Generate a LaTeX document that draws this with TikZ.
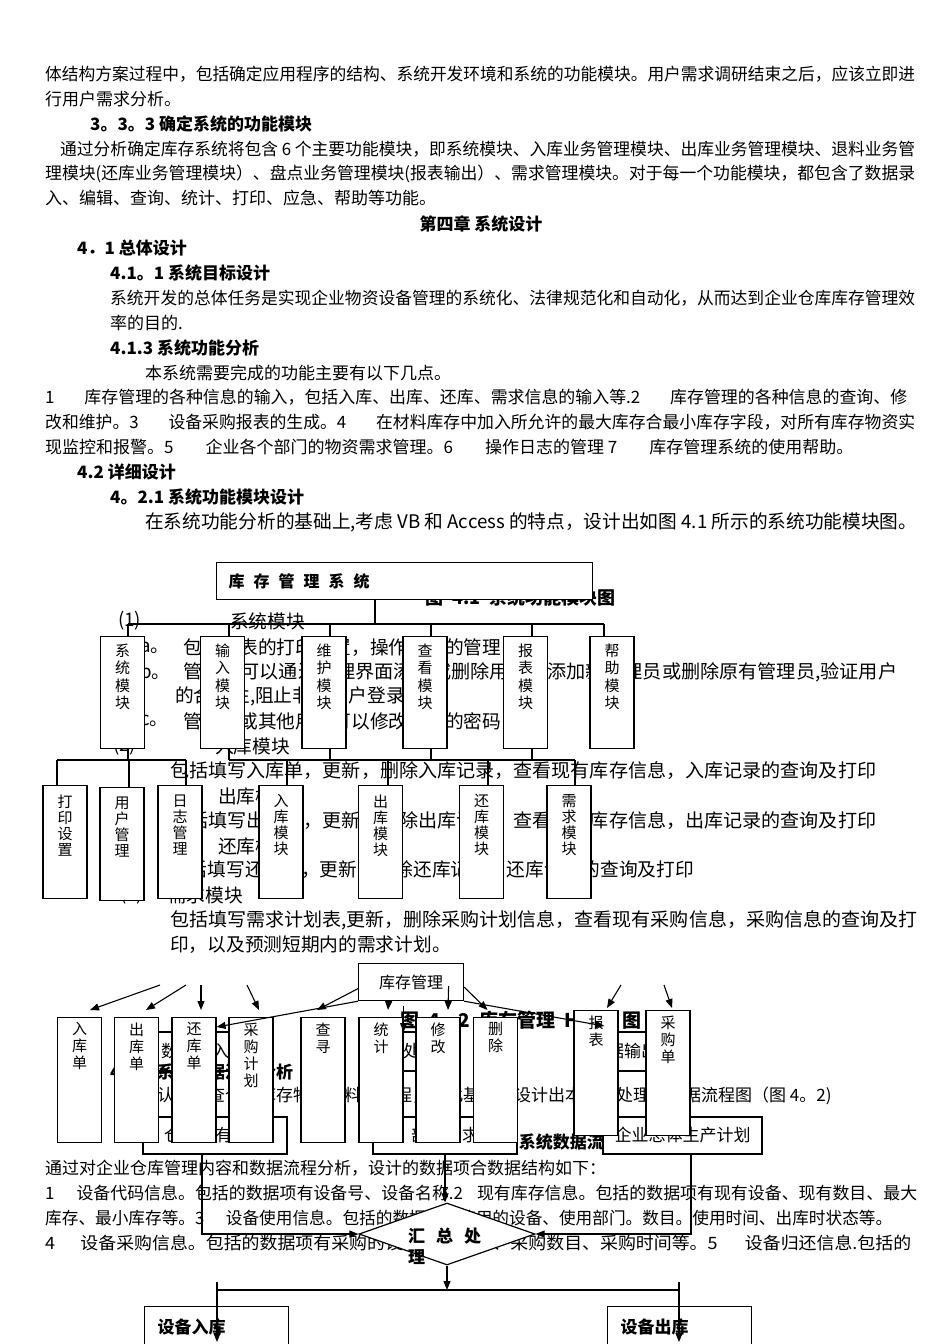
\documentclass[tikz,border=0pt]{standalone}
\usepackage{fontspec}
\setmainfont{Noto Sans CJK SC}
\usetikzlibrary{arrows.meta,shapes.geometric}
\newcommand{\fsz}[1]{\fontsize{#1}{#1}\selectfont}
\newcommand{\jl}[2]{\resizebox{#1}{\height}{#2}}
\newcommand{\vcol}[3]{\parbox[c][#1][t]{44pt}{\centering\vspace*{#2}#3}}
\tikzset{
  body/.style={anchor=west, inner sep=0pt, font=\fsz{17}},
  big/.style={anchor=west, inner sep=0pt, font=\fsz{18.7}},
  head/.style={anchor=west, inner sep=0pt, font=\bfseries\fsz{17}},
  capt/.style={anchor=west, inner sep=0pt, font=\bfseries\fsz{19}},
  rootbox/.style={draw, fill=white, line width=1.2pt, anchor=north west,
    minimum height=37pt, text width=352pt, inner xsep=12pt, inner ysep=0pt,
    align=left, font=\bfseries\fsz{16}},
  modbox/.style={draw, fill=white, line width=1.2pt, anchor=north,
    inner sep=0pt, font=\fontsize{15}{17.5}\selectfont},
  subbox/.style={modbox, font=\fontsize{15}{16}\selectfont},
  hipobox/.style={modbox, font=\fontsize{15}{17}\selectfont},
  flowbox/.style={draw, fill=white, line width=1.2pt, inner sep=0pt, font=\fsz{17}},
  endbox/.style={draw, fill=white, line width=1.2pt, anchor=north west,
    minimum height=40pt, text width=118pt, inner xsep=13pt, inner ysep=0pt,
    align=left, font=\bfseries\fsz{17}},
  tree/.style={line width=1.5pt},
  bus/.style={line width=2.2pt},
  arr/.style={-{Triangle[length=9pt,width=7pt]}, line width=1.1pt},
}

\begin{document}
\begin{tikzpicture}[x=1pt, y=-1pt]
  \useasboundingbox[fill=white] (0,0) rectangle (950,1344);

  % Text of the page above the figures
  \node[body] (t1) at (45,74) {\jl{870pt}{体结构方案过程中，包括确定应用程序的结构、系统开发环境和系统的功能模块。用户需求调研结束之后，应该立即进}};
  \node[body] (t2) at (45,99) {行用户需求分析。};
  \node[head] (h1) at (90,124) {3。3。3 确定系统的功能模块};
  \node[body] (t3) at (60,149) {\jl{855pt}{通过分析确定库存系统将包含 6 个主要功能模块，即系统模块、入库业务管理模块、出库业务管理模块、退料业务管}};
  \node[body] (t4) at (45,174) {\jl{870pt}{理模块(还库业务管理模块）、盘点业务管理模块(报表输出）、需求管理模块。对于每一个功能模块，都包含了数据录}};
  \node[body] (t5) at (45,198) {入、编辑、查询、统计、打印、应急、帮助等功能。};
  \node[head, anchor=center] (h2) at (481,224) {第四章 系统设计};
  \node[head] (h3) at (77,248) {4．1 总体设计};
  \node[head] (h4) at (110,273) {4.1。1 系统目标设计};
  \node[body] (t6) at (110,298) {\jl{805pt}{系统开发的总体任务是实现企业物资设备管理的系统化、法律规范化和自动化，从而达到企业仓库库存管理效}};
  \node[body] (t7) at (110,323) {率的目的.};
  \node[head] (h5) at (110,348) {4.1.3 系统功能分析};
  \node[body] (t8) at (145,373) {本系统需要完成的功能主要有以下几点。};
  \node[body] (t9) at (45,397) {\jl{862pt}{1\hspace{30pt}库存管理的各种信息的输入，包括入库、出库、还库、需求信息的输入等.2\hspace{30pt}库存管理的各种信息的查询、修}};
  \node[body] (t10) at (45,422) {\jl{870pt}{改和维护。3\hspace{30pt}设备采购报表的生成。4\hspace{30pt}在材料库存中加入所允许的最大库存合最小库存字段，对所有库存物资实}};
  \node[body] (t11) at (45,447) {现监控和报警。5\hspace{32pt}企业各个部门的物资需求管理。6\hspace{32pt}操作日志的管理 7\hspace{32pt}库存管理系统的使用帮助。};
  \node[head] (h6) at (77,472) {4.2 详细设计};
  \node[head] (h7) at (110,497) {4。2.1 系统功能模块设计};
  \node[big] (t12) at (145,522) {\jl{772pt}{在系统功能分析的基础上,考虑 VB 和 Access 的特点，设计出如图 4.1 所示的系统功能模块图。}};

  % Text lying under figure 4.1
  \node[body, font=\bfseries\fsz{18}] (cap41) at (425,598) {图\hspace{9pt}4.1\hspace{9pt}系统功能模块图};
  \node[big] (u1) at (118,621) {(1)};
  \node[big] (u2) at (230,621) {系统模块};
  \node[big] (u3) at (140,648) {a。};
  \node[big] (u4) at (183,648) {包括报表的打印设置，操作日志的管理};
  \node[big] (u5) at (140,672) {b。};
  \node[big] (u6) at (183,672) {\jl{714pt}{管理员可以通过管理界面添加或删除用户，添加新管理员或删除原有管理员,验证用户}};
  \node[big] (u7) at (175,696) {的合法性,阻止非法用户登录};
  \node[big] (u8) at (140,721) {c。};
  \node[big] (u9) at (183,721) {管理员或其他用户可以修改自己的密码};
  \node[big] (u10) at (113,746) {(2)};
  \node[big] (u11) at (215,746) {入库模块};
  \node[big] (u12) at (170,771) {\jl{706pt}{包括填写入库单，更新，删除入库记录，查看现有库存信息，入库记录的查询及打印}};
  \node[big] (u13) at (218,796) {出库模块};
  \node[big] (u14) at (170,821) {\jl{706pt}{包括填写出库单，更新，删除出库记录，查看现有库存信息，出库记录的查询及打印}};
  \node[big] (u15) at (218,846) {还库模块};
  \node[big] (u16) at (170,870) {包括填写还库单，更新，删除还库记录，还库记录的查询及打印};
  \node[big] (u17) at (120,895) {(3)};
  \node[big] (u18) at (168,895) {需求模块};
  \node[big] (u19) at (170,920) {\jl{747pt}{包括填写需求计划表,更新，删除采购计划信息，查看现有采购信息，采购信息的查询及打}};
  \node[big] (u20) at (170,945) {印，以及预测短期内的需求计划。};

  % Figure 4.1: function modules
  \node[rootbox] (root) at (216,562) {库\hspace{9pt}存\hspace{9pt}管\hspace{9pt}理\hspace{9pt}系\hspace{9pt}统};
  \node[modbox] (sysmod) at (122.5,636) {\vcol{112pt}{7pt}{系\\统\\模\\块}};
  \node[modbox] (inmod) at (222.5,636) {\vcol{112pt}{7pt}{输\\入\\模\\块}};
  \node[modbox] (mntmod) at (324,636) {\vcol{112pt}{7pt}{维\\护\\模\\块}};
  \node[modbox] (viewmod) at (425,636) {\vcol{112pt}{7pt}{查\\看\\模\\块}};
  \node[modbox] (rptmod) at (525.5,636) {\vcol{112pt}{7pt}{报\\表\\模\\块}};
  \node[modbox] (helpmod) at (612,636) {\vcol{112pt}{7pt}{帮\\助\\模\\块}};

  \coordinate (j0) at (375,624);
  \coordinate (busL) at (128,624);
  \coordinate (busR) at (604,624);
  \draw[tree] (j0 |- root.south) -- (j0);
  \draw[bus] (busL) -- (busR);
  \foreach \n/\x in {sysmod/128, inmod/229, mntmod/330, viewmod/431, rptmod/532, helpmod/604}{
    \coordinate (d) at (\x,624);
    \draw[tree] (d) -- (d |- \n.north);
  }

  \node[subbox] (prtset) at (65,785) {\vcol{113pt}{9pt}{打\\印\\设\\置}};
  \node[subbox] (usrmgr) at (122,787) {\vcol{113pt}{9pt}{用\\户\\管\\理}};
  \node[subbox] (logmgr) at (180,785) {\vcol{113pt}{9pt}{日\\志\\管\\理}};
  \node[subbox] (instock) at (281,785) {\vcol{113pt}{9pt}{入\\库\\模\\块}};
  \node[subbox] (outstock) at (380.5,785) {\vcol{113pt}{9pt}{出\\库\\模\\块}};
  \node[subbox] (retstock) at (481.5,785) {\vcol{113pt}{9pt}{还\\库\\模\\块}};
  \node[subbox] (reqstock) at (569,785) {\vcol{113pt}{9pt}{需\\求\\模\\块}};

  \coordinate (k0) at (128,760);
  \coordinate (bus2L) at (57,760);
  \coordinate (bus2R) at (186,760);
  \coordinate (bus3L) at (229,760);
  \coordinate (bus3R) at (575,760);
  \draw[tree] (k0 |- sysmod.south) -- (k0);
  \draw[bus] (bus2L) -- (bus2R);
  \draw[bus] (bus3L) -- (bus3R);
  \foreach \n/\x in {inmod/229, mntmod/330, viewmod/431, rptmod/532}{
    \coordinate (r) at (\x,760);
    \draw[tree] (r |- \n.south) -- (r);
  }
  \foreach \n/\x in {prtset/57, usrmgr/129, logmgr/186, instock/287, outstock/388, retstock/488, reqstock/575}{
    \coordinate (d) at (\x,760);
    \draw[tree] (d) -- (d |- \n.north);
  }

  % Data flow chart (lies under the HIPO chart)
  \node[capt] (cap42) at (400,1020) {图\hspace{9pt}4．2\hspace{9pt}库存管理\hspace{9pt}HIPO\hspace{9pt}图};
  \node[flowbox, minimum width=110pt, minimum height=39pt] (flowA) at (195,1051.5) {数据录入};
  \node[flowbox, minimum width=82pt, minimum height=39pt] (flowB) at (403,1051.5) {数据处理};
  \node[flowbox, minimum width=92pt, minimum height=39pt] (flowF) at (624,1051.5) {数据输出};
  \node[head] (h8) at (110,1072) {4.2.2 系统数据流程分析};
  \node[body] (t13) at (157,1096) {认真调查仓库库存物资资料的流程，在此基础上设计出本系统处理的数据流程图（图 4。2)};
  \node[head] (cap43) at (446,1142) {图\hspace{9pt}4．3\hspace{9pt}系统数据流程图};
  \node[flowbox, minimum width=144pt, minimum height=37pt] (flowC) at (215,1135.5) {仓库现有库存};
  \node[flowbox, minimum width=144pt, minimum height=37pt] (flowD) at (445,1135.5) {部门需求};
  \node[flowbox, minimum width=159pt, minimum height=37pt] (flowE) at (682.5,1135.5) {企业总体生产计划};

  % HIPO chart
  \node[flowbox, anchor=north west, minimum width=105pt, minimum height=37pt, font=\fsz{16}] (hipo) at (358,963) {库存管理};
  \node[hipobox] (inslip) at (79.5,1017) {\vcol{125pt}{5pt}{入\\库\\单}};
  \node[hipobox] (outslip) at (136.5,1017) {\vcol{125pt}{5pt}{出\\库\\单}};
  \node[hipobox] (retslip) at (194,1017) {\vcol{125pt}{5pt}{还\\库\\单}};
  \node[hipobox] (buyplan) at (251,1017) {\vcol{125pt}{5pt}{采\\购\\计\\划}};
  \node[hipobox] (query) at (323,1017) {\vcol{125pt}{5pt}{查\\寻}};
  \node[hipobox] (stats) at (381,1017) {\vcol{125pt}{5pt}{统\\计}};
  \node[hipobox] (modify) at (438,1017) {\vcol{125pt}{5pt}{修\\改}};
  \node[hipobox] (delete) at (495.5,1017) {\vcol{125pt}{5pt}{删\\除}};
  \node[hipobox] (report) at (596,1010) {\vcol{125pt}{5pt}{报\\表}};
  \node[hipobox] (buyslip) at (668,1010) {\vcol{125pt}{5pt}{采\\购\\单}};

  \coordinate (fa1) at (160,985);
  \coordinate (fa2) at (186,985);
  \coordinate (fa3) at (201,985);
  \coordinate (fa4) at (247,985);
  \coordinate (fr1) at (621,985);
  \coordinate (fr2) at (664,985);
  \draw[arr] (fa1) -- ([shift={(10.5pt,7pt)}]inslip.north);
  \draw[arr] (fa2) -- ([shift={(9.5pt,7pt)}]outslip.north);
  \draw[arr] (fa3) -- ([shift={(7pt,7pt)}]retslip.north);
  \draw[arr] (fa4) -- ([shift={(8pt,7pt)}]buyplan.north);
  \draw[arr] ([yshift=-6.5pt]hipo.west) -- ([shift={(-6pt,7pt)}]query.north);
  \draw[arr] (hipo.south west) -- ([yshift=-10pt]retslip.north east);
  \draw[arr] ([xshift=-22.5pt]hipo.south) -- ([shift={(7pt,7pt)}]stats.north);
  \draw[arr] ([yshift=11pt]stats.north east) -- ([yshift=-15pt]stats.north east);
  \draw[arr] ([shift={(37.5pt,15pt)}]hipo.south) -- ([shift={(10pt,7pt)}]modify.north);
  \draw[arr] ([yshift=-5pt]hipo.east) -- ([shift={(-8pt,7pt)}]delete.north);
  \draw[arr] (hipo.south east) -- ([shift={(31pt,-16pt)}]report.north west);
  \draw[arr] (fr1) -- ([shift={(11pt,2pt)}]report.north);
  \draw[arr] (fr2) -- ([shift={(4pt,2pt)}]buyslip.north);

  % Text under the data flow chart
  \node[body] (t14) at (45,1168) {通过对企业仓库管理内容和数据流程分析，设计的数据项合数据结构如下：};
  \node[body] (t15) at (45,1193) {\jl{872pt}{1\hspace{22pt}设备代码信息。包括的数据项有设备号、设备名称.2\hspace{14pt}现有库存信息。包括的数据项有现有设备、现有数目、最大}};
  \node[body] (t16) at (45,1218) {\jl{847pt}{库存、最小库存等。3\hspace{22pt}设备使用信息。包括的数据项有使用的设备、使用部门。数目。使用时间、出库时状态等。}};
  \node[body] (t17) at (45,1243) {\jl{866pt}{4\hspace{24pt}设备采购信息。包括的数据项有采购的设备、供应商、采购数目、采购时间等。5\hspace{26pt}设备归还信息.包括的}};

  % Summary and results
  \node[diamond, draw, fill=white, line width=1.2pt, minimum width=176pt,
        minimum height=62pt, inner sep=0pt] (sum) at (447,1234) {};
  \draw[arr] ([xshift=-13pt]flowC.south) |- (sum.west);
  \draw[arr] (flowD.south) -- (flowD.south |- sum.north);
  \draw[arr] ([xshift=8.5pt]flowE.south) |- (sum.east);
  \node[anchor=north west, inner sep=0pt, align=left,
        font=\bfseries\fontsize{17}{21}\selectfont] (sumtxt) at (408,1228) {汇\hspace{11pt}总\hspace{11pt}处\\理};

  \node[endbox] (storein) at (144,1306) {设备入库};
  \node[endbox] (storeout) at (607,1306) {设备出库};
  \coordinate (jn) at (447,1290);
  \coordinate (brL) at (217,1282);
  \coordinate (brR) at (679,1282);
  \coordinate (endL) at (217,1342);
  \coordinate (endR) at (679,1342);
  \draw[arr] (sum.south) -- (jn);
  \draw[tree] (brL |- jn) -- (brR |- jn);
  \draw[arr] (brL) -- (endL);
  \draw[arr] (brR) -- (endR);
\end{tikzpicture}
\end{document}
